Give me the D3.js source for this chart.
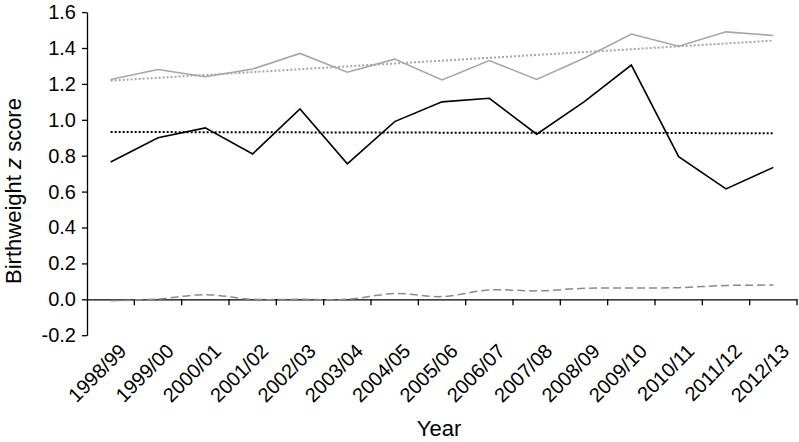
<!DOCTYPE html>
<html>
<head>
<meta charset="utf-8">
<script src="https://cdn.jsdelivr.net/npm/d3@7"></script>
<style>
  body { margin: 0; background: #fff; }
  text { font-family: "Liberation Sans", Arial, Helvetica, sans-serif; fill: #000; }
  .axis path, .axis line { stroke: #000; stroke-width: 1.3; }
</style>
</head>
<body>
<div id="chart-area"></div>
<script>
// season labels along the x axis
var years = ["1998/99", "1999/00", "2000/01", "2001/02", "2002/03", "2003/04", "2004/05",
             "2005/06", "2006/07", "2007/08", "2008/09", "2009/10", "2010/11", "2011/12", "2012/13"];

// black solid series
var blackValues = [0.765, 0.90, 0.955, 0.81, 1.06, 0.755, 0.99, 1.10, 1.12, 0.92, 1.10, 1.305, 0.795, 0.615, 0.735];
// grey solid series
var greyValues = [1.225, 1.28, 1.24, 1.283, 1.37, 1.265, 1.338, 1.222, 1.33, 1.225, 1.343, 1.478, 1.41, 1.49, 1.47];
// grey dashed series (near zero)
var dashedValues = [-0.008, 0.002, 0.026, 0.0, 0.0, 0.0, 0.032, 0.015, 0.052, 0.047, 0.061, 0.063, 0.065, 0.077, 0.079];

// linear trends, start and end values
var blackTrend = [0.932, 0.925];
var greyTrend = [1.218, 1.441];

var yTicks = [-0.2, 0, 0.2, 0.4, 0.6, 0.8, 1.0, 1.2, 1.4, 1.6];

var width = 799, height = 442;
var margin = {top: 12, right: 2, bottom: 107, left: 87};

var svg = d3.select("#chart-area").append("svg")
    .attr("width", width)
    .attr("height", height);

// Scales
var x = d3.scaleBand()
    .domain(years)
    .range([margin.left, width - margin.right])
    .padding(0);

var y = d3.scaleLinear()
    .domain([-0.2, 1.6])
    .range([335.2, 12.1]);

var bw = x.bandwidth();
var cx = function(d) { return x(d) + bw / 2; };

// ---- AXES ----
var yAxis = d3.axisLeft(y)
    .tickValues(yTicks)
    .tickFormat(function(d) { return d.toFixed(1); })
    .tickSizeInner(5)
    .tickSizeOuter(0)
    .tickPadding(6);

svg.append("g")
    .attr("class", "y-axis axis")
    .attr("transform", "translate(" + margin.left + ",0)")
    .call(yAxis)
    .call(function(g) {
        g.selectAll("text").style("font-size", "20px");
    });

var xAxis = d3.axisBottom(x)
    .tickSizeInner(6)
    .tickSizeOuter(0);

var xg = svg.append("g")
    .attr("class", "x-axis axis")
    .attr("transform", "translate(0," + y(0) + ")")
    .call(xAxis);

// tick marks sit on the band edges
xg.selectAll(".tick line")
    .attr("x1", bw / 2)
    .attr("x2", bw / 2);

xg.selectAll(".tick text")
    .style("font-size", "20px")
    .attr("text-anchor", "end")
    .attr("dy", null)
    .attr("y", null)
    .attr("transform", "translate(17,53) rotate(-45)");

// ---- LINES ----
var line = d3.line()
    .x(function(d) { return cx(d[0]); })
    .y(function(d) { return y(d[1]); });

function pairs(vals) {
    return years.map(function(yr, i) { return [yr, vals[i]]; });
}
function trendPairs(t) {
    return [[years[0], t[0]], [years[years.length - 1], t[1]]];
}

// dashed series (smoothed)
svg.append("path")
    .datum(pairs(dashedValues))
    .attr("fill", "none")
    .attr("stroke", "#8a8a8a")
    .attr("stroke-width", 1.5)
    .attr("stroke-dasharray", "8,4")
    .attr("d", line.curve(d3.curveCatmullRom.alpha(0)));

line.curve(d3.curveLinear);

// trend lines
svg.append("path")
    .datum(trendPairs(greyTrend))
    .attr("fill", "none")
    .attr("stroke", "#a6a6a6")
    .attr("stroke-width", 2)
    .attr("stroke-dasharray", "2,2")
    .attr("d", line);

svg.append("path")
    .datum(trendPairs(blackTrend))
    .attr("fill", "none")
    .attr("stroke", "#000")
    .attr("stroke-width", 2)
    .attr("stroke-dasharray", "2,2")
    .attr("d", line);

// solid series
svg.append("path")
    .datum(pairs(greyValues))
    .attr("fill", "none")
    .attr("stroke", "#a6a6a6")
    .attr("stroke-width", 1.6)
    .attr("d", line);

svg.append("path")
    .datum(pairs(blackValues))
    .attr("fill", "none")
    .attr("stroke", "#000")
    .attr("stroke-width", 1.6)
    .attr("d", line);

// ---- AXIS TITLES ----
var yTitle = svg.append("text")
    .attr("transform", "translate(21,191) rotate(-90)")
    .attr("text-anchor", "middle")
    .style("font-size", "22px");
yTitle.append("tspan").text("Birthweight ");
yTitle.append("tspan").style("font-style", "italic").text("z");
yTitle.append("tspan").text(" score");

svg.append("text")
    .attr("x", 439)
    .attr("y", 436)
    .attr("text-anchor", "middle")
    .style("font-size", "22px")
    .text("Year");
</script>
</body>
</html>
